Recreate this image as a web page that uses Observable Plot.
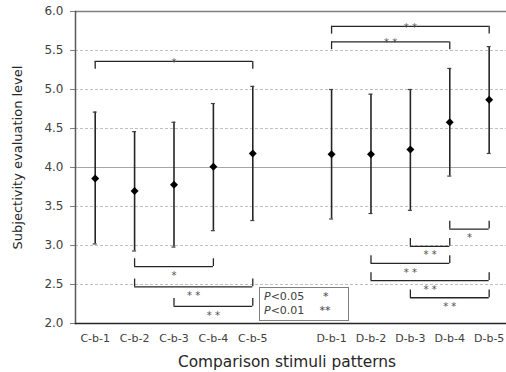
<!DOCTYPE html>
<html>
<head>
<meta charset="utf-8">
<script src="https://cdn.jsdelivr.net/npm/d3@7"></script>
<script src="https://cdn.jsdelivr.net/npm/@observablehq/plot@0.6"></script>
<style>
  html, body { margin: 0; padding: 0; background: #fff; }
  #chart { position: relative; width: 506px; height: 372px; font-family: "DejaVu Sans", Verdana, sans-serif; }
  #legend { position: absolute; left: 259px; top: 287px; width: 90px; height: 34px; border: 1px solid #7f7f7f; background: #fff; box-sizing: border-box; font-size: 11px; color: #404040; line-height: 14px; padding: 2px 0 0 4px; }
  #legend .row { display: flex; }
  #legend .p { width: 52px; }
</style>
</head>
<body>
<div id="chart">
  <div id="legend">
    <div class="row"><span class="p"><i>P</i>&lt;0.05</span><span>&nbsp;&nbsp;*</span></div>
    <div class="row"><span class="p"><i>P</i>&lt;0.01</span><span>&nbsp;**</span></div>
  </div>
</div>
<script>
// Categories (an empty slot separates the two groups)
const categories = ["C-b-1", "C-b-2", "C-b-3", "C-b-4", "C-b-5", "", "D-b-1", "D-b-2", "D-b-3", "D-b-4", "D-b-5"];
const patterns = ["C-b-1", "C-b-2", "C-b-3", "C-b-4", "C-b-5", "D-b-1", "D-b-2", "D-b-3", "D-b-4", "D-b-5"];
const means = [3.86, 3.70, 3.78, 4.01, 4.18, 4.17, 4.17, 4.23, 4.58, 4.87];
const lows  = [3.02, 2.93, 2.98, 3.19, 3.32, 3.34, 3.41, 3.45, 3.89, 4.18];
const highs = [4.71, 4.46, 4.58, 4.82, 5.04, 5.00, 4.94, 5.00, 5.27, 5.55];
const yTicks = [2.0, 2.5, 3.0, 3.5, 4.0, 4.5, 5.0, 5.5, 6.0];
const dashedGrid = [2.5, 3.0, 3.5, 4.5, 5.0, 5.5];
const solidGrid = [4.0];

// Significance brackets: from, to, bracket level, direction (1 = ticks down / label above, -1 = ticks up / label below)
const bracketFrom  = ["C-b-1", "D-b-1", "D-b-1", "C-b-2", "C-b-2", "C-b-3", "D-b-4", "D-b-3", "D-b-2", "D-b-2", "D-b-3"];
const bracketTo    = ["C-b-5", "D-b-5", "D-b-4", "C-b-4", "C-b-5", "C-b-5", "D-b-5", "D-b-4", "D-b-4", "D-b-5", "D-b-5"];
const bracketLevel = [5.36, 5.81, 5.61, 2.73, 2.47, 2.22, 3.21, 2.99, 2.77, 2.55, 2.33];
const bracketSide  = [1, 1, 1, -1, -1, -1, -1, -1, -1, -1, -1];
const bracketMark  = ["*", "* *", "* *", "*", "* *", "* *", "*", "* *", "* *", "* *", "* *"];

const xTitle = "Comparison stimuli patterns";
const yTitle = "Subjectivity evaluation level";

const idx = name => categories.indexOf(name);
const points = patterns.map((p, k) => ({i: idx(p), mean: means[k], lo: lows[k], hi: highs[k]}));
const brackets = bracketFrom.map((f, k) => ({
  a: idx(f), b: idx(bracketTo[k]), y: bracketLevel[k], side: bracketSide[k], mark: bracketMark[k],
  end: bracketLevel[k] - bracketSide[k] * 0.1, mid: (idx(f) + idx(bracketTo[k])) / 2
}));
const bracketEnds = brackets.flatMap(b => [{x: b.a, y1: b.y, y2: b.end}, {x: b.b, y1: b.y, y2: b.end}]);
const xTicks = categories.map((c, i) => i).filter(i => categories[i] !== "");

const chart = Plot.plot({
  width: 506,
  height: 372,
  marginLeft: 75,
  marginRight: 0,
  marginTop: 11,
  marginBottom: 49,
  style: {fontFamily: "DejaVu Sans, Verdana, sans-serif", background: "white"},
  x: {domain: [-0.5, 10.44]},
  y: {domain: [2, 6]},
  marks: [
    Plot.ruleY(dashedGrid, {stroke: "#bfbfbf", strokeDasharray: "3,2", strokeWidth: 1}),
    Plot.ruleY(solidGrid, {stroke: "#a6a6a6", strokeWidth: 1}),
    Plot.ruleY([6], {stroke: "#7f7f7f", strokeWidth: 1.5}),
    Plot.axisY({ticks: yTicks, tickFormat: d3.format(".1f"), tickSize: 5, tickPadding: 7, stroke: "#7f7f7f", fill: "#404040", fontSize: 12, label: null}),
    Plot.axisX({ticks: xTicks, tickFormat: i => categories[i], tickSize: 0, tickPadding: 11, fill: "#404040", fontSize: 11, label: null}),
    Plot.frame({anchor: "left", stroke: "#595959", strokeWidth: 1.5}),
    Plot.frame({anchor: "bottom", stroke: "#262626", strokeWidth: 1.5}),
    Plot.ruleX(points, {x: "i", y1: "lo", y2: "hi", stroke: "#262626", strokeWidth: 1.6}),
    Plot.ruleY(points, {x1: "i", x2: "i", y: "lo", stroke: "#404040", strokeWidth: 1.2, insetLeft: -2, insetRight: -2}),
    Plot.ruleY(points, {x1: "i", x2: "i", y: "hi", stroke: "#404040", strokeWidth: 1.2, insetLeft: -2, insetRight: -2}),
    Plot.dot(points, {x: "i", y: "mean", symbol: "diamond2", r: 3.6, fill: "black", stroke: "none"}),
    Plot.ruleY(brackets, {x1: "a", x2: "b", y: "y", stroke: "#262626", strokeWidth: 1.3}),
    Plot.ruleX(bracketEnds, {x: "x", y1: "y1", y2: "y2", stroke: "#262626", strokeWidth: 1.3}),
    Plot.text(brackets.filter(b => b.side > 0), {x: "mid", y: "y", text: "mark", fontSize: 10, fill: "#505050", lineAnchor: "middle", dy: 1}),
    Plot.text(brackets.filter(b => b.side < 0), {x: "mid", y: "y", text: "mark", fontSize: 10, fill: "#505050", lineAnchor: "middle", dy: 9}),
    Plot.text([yTitle], {frameAnchor: "left", textAnchor: "middle", dx: -58, dy: -10, rotate: -90, fontSize: 13, fill: "#262626", lineAnchor: "middle"}),
    Plot.text([xTitle], {frameAnchor: "bottom", textAnchor: "middle", dx: -4, dy: 39, fontSize: 15.4, fill: "#262626", lineAnchor: "middle"})
  ]
});
document.getElementById("chart").prepend(chart);
</script>
</body>
</html>
